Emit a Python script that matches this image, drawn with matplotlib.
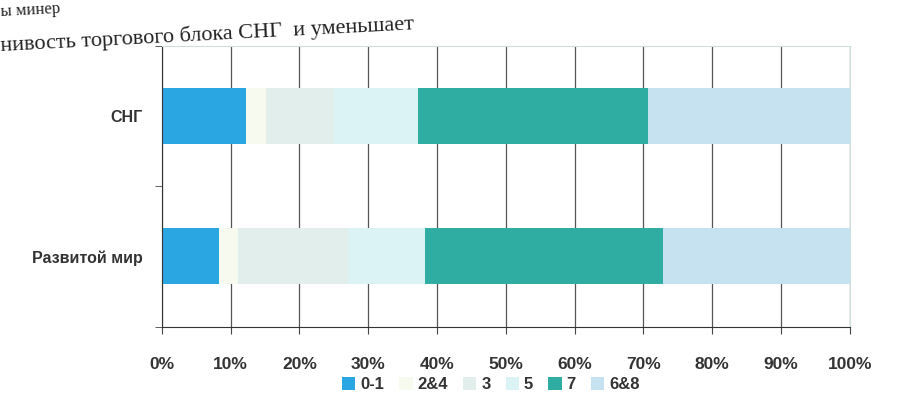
import matplotlib.pyplot as plt
import numpy as np

# === Data (shares of trade, %) ===
regions = ['СНГ', 'Развитой мир']
groups = ['0-1', '2&4', '3', '5', '7', '6&8']
shares = {
    '0-1': [12.3, 8.3],
    '2&4': [2.9, 2.8],
    '3': [9.8, 16.0],
    '5': [12.3, 11.2],
    '7': [33.3, 34.5],
    '6&8': [29.4, 27.2],
}
colors = ['#2aa6e3', '#f7faee', '#e2eeec', '#dcf3f5', '#2fada2', '#c6e2f1']
tick_labels = ['0%', '10%', '20%', '30%', '40%', '50%', '60%', '70%', '80%', '90%', '100%']

plt.rcParams['font.family'] = ['Liberation Sans', 'DejaVu Sans']

fig = plt.figure(figsize=(9.09, 4.16), dpi=100)
ax = fig.add_axes([0.178, 0.215, 0.757, 0.675])

# === Stacked bars ===
y = np.arange(len(regions))
left = np.zeros(len(regions))
for g, c in zip(groups, colors):
    vals = np.array(shares[g])
    ax.barh(y, vals, left=left, height=0.4, color=c, label=g, zorder=2)
    left += vals

ax.set_xlim(0, 100)
ax.set_ylim(1.5, -0.5)
ax.set_xticks(np.arange(0, 101, 10))
ax.set_xticklabels(tick_labels, fontsize=12.5, fontweight='bold', color='#333333')
ax.set_yticks(y)
ax.set_yticklabels(regions, fontsize=11.5, fontweight='bold', color='#333333')
ax.set_yticks([-0.5, 0.5, 1.5], minor=True)
ax.tick_params(axis='y', which='major', length=0, pad=14)
ax.tick_params(axis='y', which='minor', length=5, direction='out', color='#444444')
ax.tick_params(axis='x', length=5, direction='out', pad=17, color='#444444')

ax.grid(axis='x', color='#555555', linewidth=0.9, zorder=1)
for s in ['top', 'right']:
    ax.spines[s].set_color('#cfdede')
ax.spines['left'].set_color('#333333')
ax.spines['bottom'].set_color('#333333')

# === Legend ===
leg = fig.legend(loc='center', bbox_to_anchor=(0.54, 0.075), ncol=6, frameon=False,
                 handlelength=0.8, handleheight=0.8, handletextpad=0.3, columnspacing=0.9,
                 prop={'size': 12, 'weight': 'bold'})
for t in leg.get_texts():
    t.set_color('#333333')

# === Cropped page text above the chart ===
fig.text(0.0, 0.998, 'ы минер', family=['Liberation Serif', 'DejaVu Serif'], fontsize=12,
         color='#222222', va='top', rotation=3)
fig.text(0.0, 0.915, 'нивость торгового блока СНГ  и уменьшает', family=['Liberation Serif', 'DejaVu Serif'],
         fontsize=16, color='#222222', va='center', rotation=3)

fig.savefig('out.png', dpi=100)
